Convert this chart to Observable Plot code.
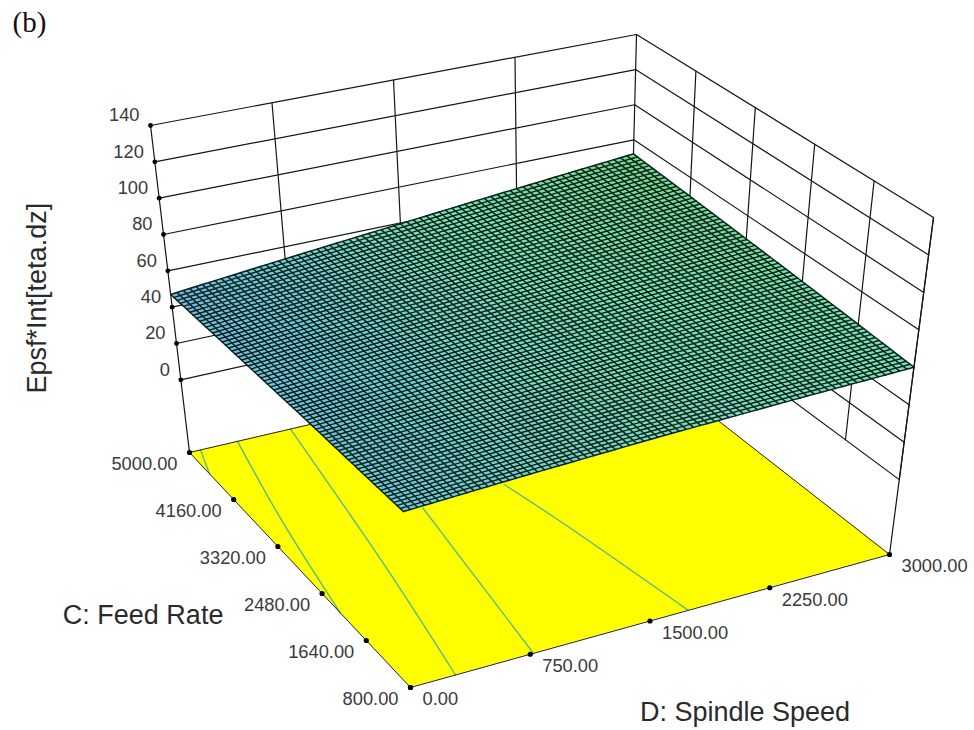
<!DOCTYPE html>
<html><head><meta charset="utf-8">
<script src="https://cdn.jsdelivr.net/npm/d3@7"></script>
<script src="https://cdn.jsdelivr.net/npm/@observablehq/plot@0.6"></script>
<style>html,body{margin:0;padding:0;background:#fff}svg{display:block}</style>
</head><body><div id="chart"></div>
<script>
const spindleTicks = [0, 750, 1500, 2250, 3000];
const feedTicks = [800, 1640, 2480, 3320, 4160, 5000];
const zTicks = [0, 20, 40, 60, 80, 100, 120, 140];
const zFloor = -40;
// Response read at each (feed, spindle) tick node
const surfaceRows = [
  [51.0, 54.0, 56.6, 58.5, 60.0],
  [50.5, 54.0, 57.2, 59.9, 62.4],
  [50.0, 54.0, 57.8, 61.4, 64.8],
  [49.2, 53.9, 58.4, 62.9, 67.2],
  [48.2, 53.7, 59.0, 64.4, 69.6],
  [47.0, 53.3, 59.5, 65.8, 72.0]
];
// Contours on the floor as [spindle, feed]
const contours = [
  [[75, 5000], [0, 4620]],
  [[328, 5000], [150, 3660], [0, 2131]],
  [[690, 5000], [468, 2680], [282, 800]],
  [[967, 3350], [770, 800]],
  [[1521, 3397], [1599, 2637], [1740, 800]]
];
const meshCells = 72;
const colorStops = [47, 51, 57, 62, 72];
const colorRange = ["#78b8dc", "#6cc8d8", "#78dcbc", "#78e4a8", "#76dc80"];

// View of the box: pixel position of its eight corners (spindle, feed, z)
const view = {
  floor: {a: [410, 687], b: [889, 554], c: [189, 452], d: [628, 350]},
  top:   {a: [396, 339], b: [933, 217], c: [150, 125], d: [636, 34]}
};
const lerp = (p, q, t) => p + (q - p) * t;
function project(D, C, Z) {
  const u = D / 3000, v = (C - 800) / 4200, w = (Z - zFloor) / (140 - zFloor);
  const at = (q, i) => lerp(lerp(q.a[i], q.b[i], u), lerp(q.c[i], q.d[i], u), v);
  return [lerp(at(view.floor, 0), at(view.top, 0), w), lerp(at(view.floor, 1), at(view.top, 1), w)];
}
const pt = (D, C, Z, extra = {}) => { const [x, y] = project(D, C, Z); return {x, y, ...extra}; };

function surfaceZ(D, C) {
  const fu = Math.min(D / 750, 3.9999), fv = Math.min((C - 800) / 840, 4.9999);
  const i = Math.floor(fu), j = Math.floor(fv), s = fu - i, t = fv - j;
  return lerp(lerp(surfaceRows[j][i], surfaceRows[j][i + 1], s),
              lerp(surfaceRows[j + 1][i], surfaceRows[j + 1][i + 1], s), t);
}

// walls
const wallLines = [];
let id = 0;
for (const z of zTicks) {
  wallLines.push(pt(0, 5000, z, {id}), pt(3000, 5000, z, {id})); id++;
  wallLines.push(pt(3000, 5000, z, {id}), pt(3000, 800, z, {id})); id++;
}
for (const d of spindleTicks.slice(1)) { wallLines.push(pt(d, 5000, 0, {id}), pt(d, 5000, 140, {id})); id++; }
for (const c of feedTicks.slice(0, -1)) { wallLines.push(pt(3000, c, 0, {id}), pt(3000, c, 140, {id})); id++; }
wallLines.push(pt(0, 5000, zFloor, {id}), pt(0, 5000, 140, {id})); id++;
wallLines.push(pt(3000, 800, zFloor, {id}), pt(3000, 800, 140, {id})); id++;

// floor
const fA = project(0, 800, zFloor), fB = project(3000, 800, zFloor), fC = project(0, 5000, zFloor), fD = project(3000, 5000, zFloor);
const floorRows = [{x1: fA[0], y1: fA[1], x2: fC[0], y2: fC[1]}, {x1: fB[0], y1: fB[1], x2: fD[0], y2: fD[1]}];
const floorEdge = [fA, fB, fD, fC, fA].map(([x, y]) => ({x, y}));
const contourRows = contours.flatMap((line, k) => line.map(([d, c]) => pt(d, c, zFloor, {k})));

// surface mesh
const cellRows = [], meshRows = [];
const stepD = 3000 / meshCells, stepC = 4200 / meshCells;
for (let i = 0; i < meshCells; i++) for (let j = 0; j < meshCells; j++) {
  const d0 = i * stepD, d1 = d0 + stepD, c0 = 800 + j * stepC, c1 = c0 + stepC;
  const p00 = project(d0, c0, surfaceZ(d0, c0)), p01 = project(d0, c1, surfaceZ(d0, c1));
  const p10 = project(d1, c0, surfaceZ(d1, c0)), p11 = project(d1, c1, surfaceZ(d1, c1));
  const cell = i * 1000 + j, zv = surfaceZ((d0 + d1) / 2, (c0 + c1) / 2);
  cellRows.push({cell, zv, x1: p00[0], y1: p00[1], x2: p01[0], y2: p01[1]},
                {cell, zv, x1: p10[0], y1: p10[1], x2: p11[0], y2: p11[1]});
}
for (let i = 0; i <= meshCells; i++) {
  for (let j = 0; j <= meshCells; j++) {
    const d = i * stepD, c = 800 + j * stepC;
    meshRows.push(pt(d, c, surfaceZ(d, c), {line: "a" + i}));
    const d2 = j * stepD, c2 = 800 + i * stepC;
    meshRows.push(pt(d2, c2, surfaceZ(d2, c2), {line: "b" + i}));
  }
}

const zDots = zTicks.map(z => pt(0, 5000, z, {label: String(z)}));
const feedDots = feedTicks.map(c => pt(0, c, zFloor, {label: c.toFixed(2)}));
const spindleDots = spindleTicks.map(d => pt(d, 800, zFloor, {label: d.toFixed(2)}));
const sans = "Liberation Sans, Arial, sans-serif";
const tick = {fontFamily: sans, fontSize: 18.3, fill: "#3a3a3a", text: "label", x: "x", y: "y"};
const heading = {x: "x", y: "y", text: "label", fontFamily: sans, fontSize: 27, fill: "#2a2a2a"};

const chart = Plot.plot({
  width: 974, height: 730, margin: 0,
  x: {domain: [0, 974], axis: null},
  y: {domain: [730, 0], axis: null},
  color: {type: "linear", domain: colorStops, range: colorRange},
  marks: [
    Plot.line(wallLines, {x: "x", y: "y", z: "id", stroke: "#151515", strokeWidth: 1.2}),
    Plot.area(floorRows, {x1: "x1", y1: "y1", x2: "x2", y2: "y2", fill: "#ffff00"}),
    Plot.line(contourRows, {x: "x", y: "y", z: "k", stroke: "#4cb88a", strokeWidth: 1.3, curve: "catmull-rom"}),
    Plot.line(floorEdge, {x: "x", y: "y", stroke: "#222", strokeWidth: 1}),
    Plot.area(cellRows, {x1: "x1", y1: "y1", x2: "x2", y2: "y2", z: "cell", fill: "zv"}),
    Plot.line(meshRows, {x: "x", y: "y", z: "line", stroke: "#08201f", strokeWidth: 1.45}),
    Plot.dot(zDots, {x: "x", y: "y", r: 2.4, fill: "#000"}),
    Plot.dot(feedDots, {x: "x", y: "y", r: 2.6, fill: "#000"}),
    Plot.dot(spindleDots, {x: "x", y: "y", r: 2.6, fill: "#000"}),
    Plot.text(zDots, {...tick, textAnchor: "end", dx: -11, dy: -10}),
    Plot.text(feedDots, {...tick, textAnchor: "end", dx: -12, dy: 12}),
    Plot.text(spindleDots, {...tick, textAnchor: "start", dx: 12, dy: 12}),
    Plot.text([pt(0, 2480, zFloor, {label: "C: Feed Rate"})], {...heading, dx: -179, dy: 22}),
    Plot.text([pt(1500, 800, zFloor, {label: "D: Spindle Speed"})], {...heading, dx: 95, dy: 91}),
    Plot.text([pt(0, 5000, 40, {label: "Epsf*Int[teta.dz]"})], {...heading, rotate: -90, dx: -135, dy: -9}),
    Plot.text(["(b)"], {frameAnchor: "top-left", dx: 12, dy: 11, fontFamily: "Liberation Serif, serif", fontSize: 29, fill: "#111", lineAnchor: "top"})
  ]
});
document.getElementById("chart").append(chart);
</script></body></html>
